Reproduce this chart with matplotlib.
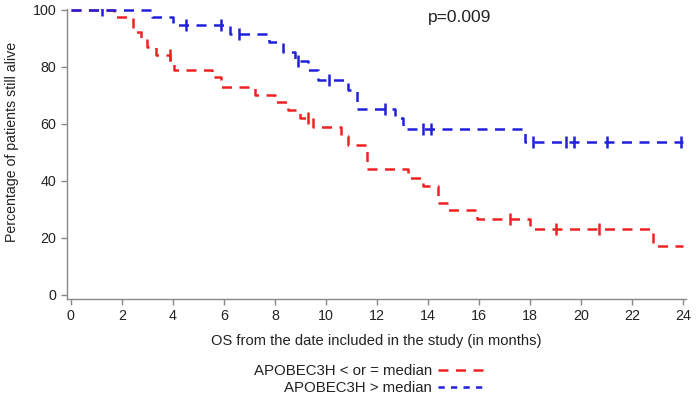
import matplotlib
matplotlib.use("Agg")
import matplotlib.pyplot as plt
from matplotlib.lines import Line2D

plt.rcParams['font.family'] = ['Liberation Sans', 'DejaVu Sans']

# Red: APOBEC3H <= median
red_t = [0, 1.7, 2.45, 2.75, 3.0, 3.35, 3.9, 4.05, 5.55, 5.9, 7.2, 8.0, 8.5, 9.0,
         9.5, 10.6, 10.85, 11.6, 13.2, 13.8, 14.4, 14.8, 15.9, 18.0, 22.8, 24.0]
red_s = [100, 97.4, 92.1, 89.4, 86.8, 84.2, 81.6, 78.9, 76.3, 73.0, 70.2, 67.5, 64.8, 62.1,
         59.0, 55.6, 52.6, 44.0, 41.1, 38.1, 32.3, 29.7, 26.5, 22.9, 17.0, 17.0]
red_cens_t = [3.87, 9.3, 17.2, 19.0, 20.7]
red_cens_s = [84.2, 62.1, 26.5, 22.9, 22.9]

# Blue: APOBEC3H > median
blue_t = [0, 3.2, 4.0, 6.25, 7.75, 8.3, 8.8, 9.3, 9.7, 10.85, 11.2, 12.7, 13.0, 17.8, 24.0]
blue_s = [100, 97.4, 94.5, 91.5, 88.6, 85.1, 81.9, 78.7, 75.3, 71.8, 65.2, 61.9, 58.1, 53.6, 53.6]
blue_cens_t = [1.24, 4.5, 5.9, 6.6, 8.9, 10.1, 12.3, 13.8, 14.1, 18.1, 19.4, 19.7, 21.0, 23.9]
blue_cens_s = [100, 94.5, 94.5, 91.5, 81.9, 75.3, 65.2, 58.1, 58.1, 53.6, 53.6, 53.6, 53.6, 53.6]

x_ticks = [0, 2, 4, 6, 8, 10, 12, 14, 16, 18, 20, 22, 24]
y_ticks = [0, 20, 40, 60, 80, 100]

RED = '#ee2222'
BLUE = '#2020dd'

fig = plt.figure(figsize=(7.0, 4.04), dpi=100)
ax = fig.add_axes([0.0957, 0.26, 0.884, 0.718])

dash = (0, (4, 3))
ax.step(red_t, red_s, where='post', color=RED, lw=1.8, linestyle=dash, zorder=3)
ax.step(blue_t, blue_s, where='post', color=BLUE, lw=1.8, linestyle=dash, zorder=4)
ax.plot(red_cens_t, red_cens_s, linestyle='none', marker='|', ms=9, mew=1.8, color=RED, zorder=3)
ax.plot(blue_cens_t, blue_cens_s, linestyle='none', marker='|', ms=9, mew=1.8, color=BLUE, zorder=4)

ax.set_xlim(-0.15, 24.1)
ax.set_ylim(-1.5, 100.3)
ax.set_xticks(x_ticks)
ax.set_yticks(y_ticks)
for s in ['top', 'right']:
    ax.spines[s].set_visible(False)
for s in ['left', 'bottom']:
    ax.spines[s].set_color('#888888')
    ax.spines[s].set_linewidth(1.0)
ax.tick_params(axis='both', colors='#888888', labelcolor='#222222', labelsize=10.3, length=4, width=1)

ax.set_xlabel('OS from the date included in the study (in months)', fontsize=10.6, color='#222222', labelpad=8)
ax.set_ylabel('Percentage of patients still alive', fontsize=10.2, color='#222222')
ax.yaxis.set_label_coords(-0.077, 0.54)

ax.text(14.0, 97.3, 'p=0.009', fontsize=12.5, color='#222222', ha='left', va='center')

# legend below
fig.text(0.617, 1 - 371 / 404, 'APOBEC3H < or = median', ha='right', va='center', fontsize=10.8, color='#222222')
fig.text(0.617, 1 - 388 / 404, 'APOBEC3H > median', ha='right', va='center', fontsize=10.8, color='#222222')
fig.add_artist(Line2D([0.626, 0.69], [1 - 370 / 404] * 2, transform=fig.transFigure,
                      color=RED, lw=1.8, linestyle=(0, (4, 3))))
fig.add_artist(Line2D([0.626, 0.69], [1 - 387 / 404] * 2, transform=fig.transFigure,
                      color=BLUE, lw=1.8, linestyle=(0, (2.5, 2.5))))

fig.savefig('out.png', dpi=100)
